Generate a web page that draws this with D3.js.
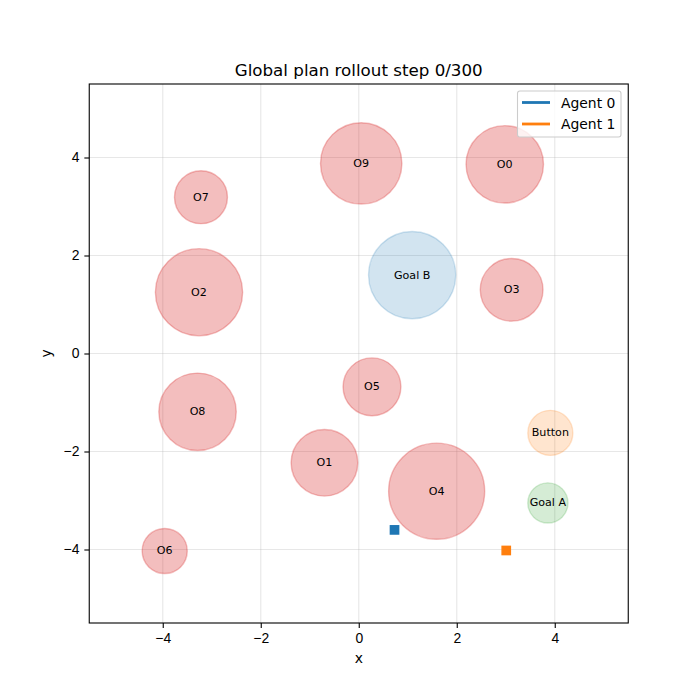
<!DOCTYPE html>
<head>
    <meta charset="utf-8">
    <title>Global plan rollout</title>
</head>
<style>
    body { margin: 0; background: #fff; }
    svg { display: block; font-family: "DejaVu Sans", sans-serif; }
    .grid line { stroke: #b0b0b0; stroke-opacity: .3; stroke-width: 1.1px; }
    .axis path, .axis line { stroke: #000; stroke-width: 1.1px; }
    .axis text { font-size: 13.9px; fill: #000; }
    .lbl { font-size: 11.1px; fill: #000; text-anchor: middle; dominant-baseline: central; }
</style>
<body>
<script src="https://cdnjs.cloudflare.com/ajax/libs/d3/7.8.5/d3.min.js"></script>
<script>
    // obstacles
    var obsNames = ["O0", "O1", "O2", "O3", "O4", "O5", "O6", "O7", "O8", "O9"];
    var obsX = [2.98, -0.70, -3.26, 3.12, 1.59, 0.27, -3.96, -3.22, -3.29, 0.05];
    var obsY = [3.86, -2.23, 1.25, 1.30, -2.81, -0.68, -4.03, 3.19, -1.19, 3.88];
    var obsR = [0.79, 0.68, 0.89, 0.64, 0.98, 0.59, 0.46, 0.54, 0.79, 0.83];

    // goals and button
    var goalNames = ["Goal B", "Button", "Goal A"];
    var goalX = [1.09, 3.91, 3.86];
    var goalY = [1.60, -1.62, -3.05];
    var goalR = [0.89, 0.46, 0.41];
    var goalColors = ["#1f77b4", "#ff7f0e", "#2ca02c"];

    // agents
    var agentNames = ["Agent 0", "Agent 1"];
    var agentX = [0.73, 3.01];
    var agentY = [-3.60, -4.02];
    var agentColors = ["#1f77b4", "#ff7f0e"];

    var ticks = [-4, -2, 0, 2, 4];

    var width = 700, height = 700;
    var pLeft = 89.25, pRight = 628.25, pTop = 84, pBottom = 623;

    var x = d3.scaleLinear().domain([-5.5, 5.5]).range([pLeft, pRight]);
    var y = d3.scaleLinear().domain([-5.5, 5.5]).range([pBottom, pTop]);
    var k = x(1) - x(0);

    var svg = d3.select("body").append("svg")
        .attr("width", width)
        .attr("height", height);

    // grid
    var grid = svg.append("g").attr("class", "grid");
    grid.selectAll(".gx").data(ticks).enter().append("line")
        .attr("x1", d => x(d)).attr("x2", d => x(d))
        .attr("y1", pTop).attr("y2", pBottom);
    grid.selectAll(".gy").data(ticks).enter().append("line")
        .attr("y1", d => y(d)).attr("y2", d => y(d))
        .attr("x1", pLeft).attr("x2", pRight);

    var plot = svg.append("g");

    // obstacles
    obsNames.forEach(function (name, i) {
        plot.append("circle")
            .attr("cx", x(obsX[i]))
            .attr("cy", y(obsY[i]))
            .attr("r", obsR[i] * k)
            .attr("fill", "#d62728").attr("fill-opacity", 0.3)
            .attr("stroke", "#d62728").attr("stroke-opacity", 0.3)
            .attr("stroke-width", 1.4);
        plot.append("text").attr("class", "lbl")
            .attr("x", x(obsX[i])).attr("y", y(obsY[i]))
            .text(name);
    });

    // goals
    goalNames.forEach(function (name, i) {
        plot.append("circle")
            .attr("cx", x(goalX[i]))
            .attr("cy", y(goalY[i]))
            .attr("r", goalR[i] * k)
            .attr("fill", goalColors[i]).attr("fill-opacity", 0.2)
            .attr("stroke", goalColors[i]).attr("stroke-opacity", 0.2)
            .attr("stroke-width", 1.4);
        plot.append("text").attr("class", "lbl")
            .attr("x", x(goalX[i])).attr("y", y(goalY[i]))
            .text(name);
    });

    // agents
    var s = 8.3;
    agentNames.forEach(function (name, i) {
        plot.append("rect")
            .attr("x", x(agentX[i]) - s / 2)
            .attr("y", y(agentY[i]) - s / 2)
            .attr("width", s).attr("height", s)
            .attr("fill", agentColors[i])
            .attr("stroke", agentColors[i])
            .attr("stroke-width", 1.4);
    });

    // axes
    var fmt = d => d < 0 ? "\u2212" + Math.abs(d) : d;
    svg.append("g").attr("class", "axis")
        .attr("transform", "translate(0," + pBottom + ")")
        .call(d3.axisBottom(x).tickValues(ticks).tickSize(4.9).tickPadding(4.9).tickFormat(fmt))
        .call(g => g.select(".domain").remove());
    svg.append("g").attr("class", "axis")
        .attr("transform", "translate(" + pLeft + ",0)")
        .call(d3.axisLeft(y).tickValues(ticks).tickSize(4.9).tickPadding(4.9).tickFormat(fmt))
        .call(g => g.select(".domain").remove());

    svg.append("rect")
        .attr("x", pLeft).attr("y", pTop)
        .attr("width", pRight - pLeft).attr("height", pBottom - pTop)
        .attr("fill", "none").attr("stroke", "#000").attr("stroke-width", 1.1);

    // labels
    svg.append("text")
        .attr("x", (pLeft + pRight) / 2).attr("y", 663)
        .attr("text-anchor", "middle").attr("font-size", 13.9)
        .text("x");
    svg.append("text")
        .attr("transform", "translate(51," + (pTop + pBottom) / 2 + ") rotate(-90)")
        .attr("text-anchor", "middle").attr("font-size", 13.9)
        .text("y");
    svg.append("text")
        .attr("x", (pLeft + pRight) / 2).attr("y", 76)
        .attr("text-anchor", "middle").attr("font-size", 16.7)
        .text("Global plan rollout step 0/300");

    // legend
    var lg = svg.append("g").attr("transform", "translate(517.5,91)");
    lg.append("rect")
        .attr("width", 103.5).attr("height", 46).attr("rx", 2.5)
        .attr("fill", "#fff").attr("fill-opacity", 0.8)
        .attr("stroke", "#ccc").attr("stroke-width", 1.1);
    agentNames.forEach(function (name, i) {
        var yy = 11.5 + i * 21.5;
        lg.append("line")
            .attr("x1", 4.5).attr("x2", 32.5)
            .attr("y1", yy).attr("y2", yy)
            .attr("stroke", agentColors[i]).attr("stroke-width", 2.8);
        lg.append("text")
            .attr("x", 43.5).attr("y", yy)
            .attr("dominant-baseline", "central")
            .attr("font-size", 13.9)
            .text(name);
    });
</script>
</body>
